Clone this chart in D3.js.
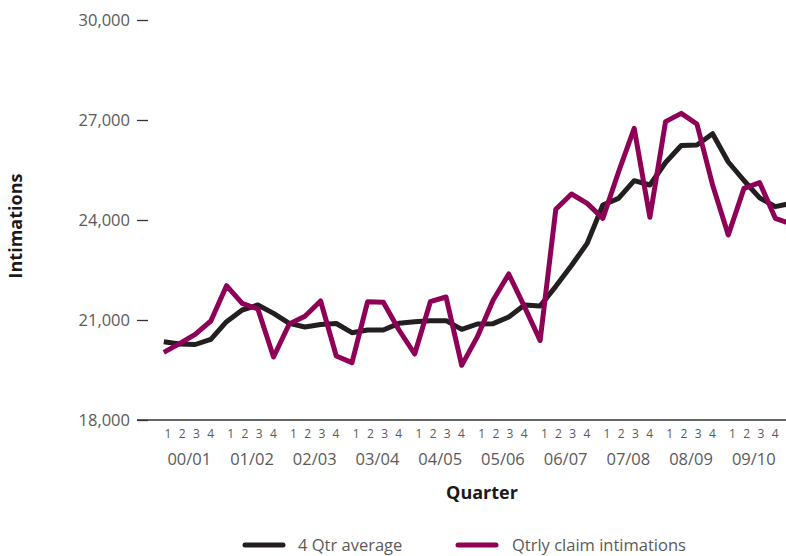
<!DOCTYPE html>
<html>
<head>
<meta charset="utf-8">
<script src="https://cdn.jsdelivr.net/npm/d3@7"></script>
<style>
  html, body { margin: 0; padding: 0; background: #fff; }
  svg { display: block; font-family: "Open Sans", sans-serif; }
</style>
</head>
<body>
<svg id="chart" width="786" height="556"></svg>
<script>
const years = ["00/01","01/02","02/03","03/04","04/05","05/06","06/07","07/08","08/09","09/10"];
const quarterLabels = ["1","2","3","4"];
const yTicks = [18000, 21000, 24000, 27000, 30000];
// 4 quarter moving average (last point runs past the right edge)
const avgValues = [20350,20280,20265,20420,20950,21300,21450,21200,20900,20790,
                   20865,20895,20620,20700,20700,20900,20950,20980,20980,20720,
                   20880,20890,21090,21450,21420,22010,22635,23300,24450,24650,
                   25180,25050,25725,26235,26250,26590,25740,25185,24665,24400,24500];
// quarterly claim intimations
const qtrValues = [20030,20290,20570,20970,22030,21500,21330,19890,20880,21110,
                   21570,19920,19720,21550,21530,20700,19980,21550,21690,19640,
                   20500,21590,22380,21400,20385,24320,24780,24500,24050,25440,
                   26750,24080,26950,27200,26880,25050,23550,24950,25120,24050,23880];
const seriesNames = ["4 Qtr average", "Qtrly claim intimations"];
const colors = ["#231f20", "#8f0057"];

const svg = d3.select("#chart");
const x = d3.scaleLinear().domain([0, 39]).range([163.8, 163.8 + 39 * 15.68]);
const y = d3.scaleLinear().domain([18000, 30000]).range([420, 20]);

// Y axis
const yAxis = d3.axisLeft(y).tickValues(yTicks).tickSize(11).tickPadding(7)
  .tickFormat(d3.format(","));
const gy = svg.append("g").attr("transform", "translate(148,0)").call(yAxis);
gy.select(".domain").remove();
gy.selectAll(".tick line").attr("stroke", "#333").attr("stroke-width", 1.3);
gy.selectAll(".tick text").attr("fill", "#5a5a5a").attr("font-size", 16.5)
  .attr("font-family", "'Open Sans', sans-serif").attr("dy", "0.35em");

// X baseline
svg.append("line").attr("x1", 137).attr("x2", 786).attr("y1", y(18000)).attr("y2", y(18000))
  .attr("stroke", "#333").attr("stroke-width", 1.3);

// X labels
const gx = svg.append("g");
years.forEach((yr, k) => {
  const c = (x(4 * k) + x(4 * k + 3)) / 2 + 2;
  quarterLabels.forEach((q, j) => {
    gx.append("text").attr("x", c + (j - 1.5) * 14.2).attr("y", 438)
      .attr("text-anchor", "middle").attr("font-size", 12).attr("fill", "#5a5a5a").text(q);
  });
  gx.append("text").attr("x", c).attr("y", 465).attr("text-anchor", "middle")
    .attr("font-size", 16.5).attr("fill", "#5a5a5a").text(yr);
});

// Axis titles
svg.append("text").attr("transform", "translate(22,226) rotate(-90)")
  .attr("text-anchor", "middle").attr("font-size", 18).attr("font-weight", "bold")
  .attr("fill", "#1a1a1a").text("Intimations");
svg.append("text").attr("x", 482).attr("y", 499).attr("text-anchor", "middle")
  .attr("font-size", 18).attr("font-weight", "bold").attr("fill", "#1a1a1a").text("Quarter");

// Lines
const line = d3.line().x((d, i) => x(i)).y(d => y(d)).curve(d3.curveLinear);
[avgValues, qtrValues].forEach((vals, s) => {
  svg.append("path").datum(vals).attr("d", line).attr("fill", "none")
    .attr("stroke", colors[s]).attr("stroke-width", 5)
    .attr("stroke-linejoin", "round").attr("stroke-linecap", "butt");
});

// Legend
const legendItems = [{sx: 243, tx: 298}, {sx: 456, tx: 512}];
legendItems.forEach((it, s) => {
  svg.append("line").attr("x1", it.sx + 2).attr("x2", it.sx + 40).attr("y1", 545).attr("y2", 545)
    .attr("stroke", colors[s]).attr("stroke-width", 5).attr("stroke-linecap", "round");
  svg.append("text").attr("x", it.tx).attr("y", 545).attr("dy", "0.35em")
    .attr("font-size", 16.5).attr("fill", "#5a5a5a").text(seriesNames[s]);
});
</script>
</body>
</html>
